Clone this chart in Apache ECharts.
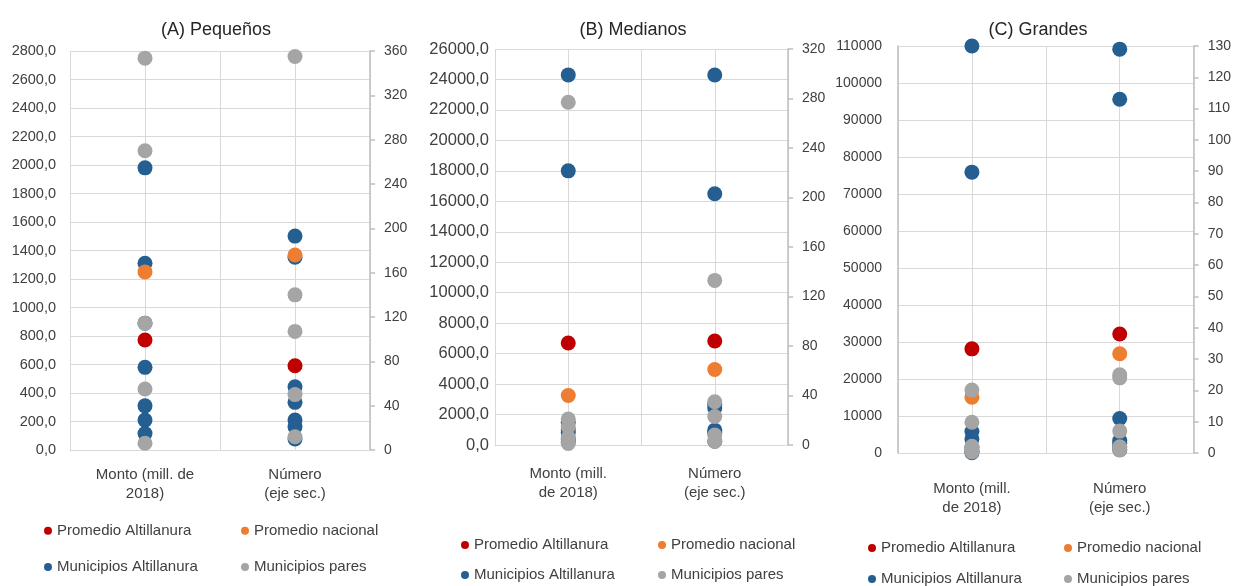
<!DOCTYPE html>
<html>
<head>
<meta charset="utf-8">
<script src="https://cdn.jsdelivr.net/npm/echarts@6/dist/echarts.min.js"></script>
<style>
  html, body { margin: 0; padding: 0; background: #ffffff; }
  #chart { width: 1234px; height: 586px; }
</style>
</head>
<body>
<div id="chart"></div>
<script>
// ---------- DATA ----------
const panelTitles = ['(A) Pequeños', '(B) Medianos', '(C) Grandes'];
const categoryLabelsA = ['Monto (mill. de\n2018)', 'Número\n(eje sec.)'];
const categoryLabelsBC = ['Monto (mill.\nde 2018)', 'Número\n(eje sec.)'];
const seriesNames = ['Promedio Altillanura', 'Promedio nacional', 'Municipios Altillanura', 'Municipios pares'];

// Left axis (Monto) and right axis (Número) ranges per panel
const leftMax = [2800, 26000, 110000];
const leftInterval = [200, 2000, 10000];
const rightMax = [360, 320, 130];
const rightInterval = [40, 40, 10];

// (A) Pequeños
const promAltMontoA = [772];
const promAltNumeroA = [76];
const promNacMontoA = [1250];
const promNacNumeroA = [176];
const munAltMontoA = [1980, 1310, 890, 580, 310, 210, 115];
const munAltNumeroA = [193, 174, 57, 43, 27, 21, 10];
const munParesMontoA = [2750, 2100, 890, 428, 47];
const munParesNumeroA = [355, 140, 107, 50, 12];

// (B) Medianos
const promAltMontoB = [6700];
const promAltNumeroB = [84];
const promNacMontoB = [3250];
const promNacNumeroB = [61];
const munAltMontoB = [24300, 18000, 1500, 1000, 800, 400, 200];
const munAltNumeroB = [299, 203, 33, 30, 12, 10, 3];
const munParesMontoB = [22500, 1700, 1200, 500, 100];
const munParesNumeroB = [133, 35, 23, 8, 3];

// (C) Grandes
const promAltMontoC = [28150];
const promAltNumeroC = [38];
const promNacMontoC = [15100];
const promNacNumeroC = [31.7];
const munAltMontoC = [110000, 75900, 5800, 3800, 1500, 500, 100];
const munAltNumeroC = [129, 113, 11, 4, 3, 2, 1];
const munParesMontoC = [17000, 8300, 1800, 900, 300];
const munParesNumeroC = [25, 24, 7, 2, 1];

// ---------- BUILD ----------
const panels = [
  { cats: categoryLabelsA,
    monto: [promAltMontoA, promNacMontoA, munAltMontoA, munParesMontoA],
    numero: [promAltNumeroA, promNacNumeroA, munAltNumeroA, munParesNumeroA] },
  { cats: categoryLabelsBC,
    monto: [promAltMontoB, promNacMontoB, munAltMontoB, munParesMontoB],
    numero: [promAltNumeroB, promNacNumeroB, munAltNumeroB, munParesNumeroB] },
  { cats: categoryLabelsBC,
    monto: [promAltMontoC, promNacMontoC, munAltMontoC, munParesMontoC],
    numero: [promAltNumeroC, promNacNumeroC, munAltNumeroC, munParesNumeroC] }
];

const colors = { 'Promedio Altillanura': '#C00000', 'Promedio nacional': '#ED7D31',
                 'Municipios Altillanura': '#255E91', 'Municipios pares': '#A5A5A5' };
const drawOrder = [2, 0, 1, 3]; // blue underneath, gray on top

const FONT = 'Liberation Sans';
const TXT = '#404040';
const GRIDC = '#d9d9d9';
const AXC = '#bfbfbf';

const layout = [
  { grid: { left: 70, top: 51, width: 300, height: 399 }, titleX: 211, xMargin: 15, leftMargin: 14, leftFont: 14.5, leftLine: false,
    col: [44, 241], rows: [530.7, 567], dec: true },
  { grid: { left: 495, top: 49, width: 293, height: 396 }, titleX: 628, xMargin: 19, leftMargin: 6, leftFont: 16.5, leftLine: false,
    col: [461, 658], rows: [545, 575], dec: true },
  { grid: { left: 898, top: 46, width: 297, height: 407 }, titleX: 1033, xMargin: 26, leftMargin: 16, leftFont: 14, leftLine: true,
    col: [868, 1064], rows: [548, 579], dec: false }
];
// legend placement: [column, row] for each series name
const legendSlot = [[0, 0], [1, 0], [0, 1], [1, 1]];

const option = {
  animation: false,
  backgroundColor: '#ffffff',
  title: [], grid: [], xAxis: [], yAxis: [], series: [], legend: []
};

panels.forEach((pn, p) => {
  const L = layout[p];
  option.title.push({ text: panelTitles[p], left: L.titleX, top: 16, textAlign: 'center',
    textStyle: { fontFamily: FONT, fontSize: 18, fontWeight: 'normal', color: '#262626' } });
  option.grid.push(L.grid);
  option.xAxis.push({
    gridIndex: p, type: 'value', min: -0.5, max: pn.cats.length - 0.5, interval: 0.5,
    axisLine: { show: true, onZero: false, lineStyle: { color: GRIDC, width: 1 } },
    axisTick: { show: false },
    splitLine: { show: true, lineStyle: { color: GRIDC, width: 1 } },
    axisLabel: {
      showMinLabel: false, showMaxLabel: false,
      formatter: v => (Number.isInteger(v) && pn.cats[v] !== undefined) ? pn.cats[v] : '',
      fontFamily: FONT, fontSize: 15, color: TXT, lineHeight: 19, margin: L.xMargin, align: 'center'
    }
  });
  option.yAxis.push({
    gridIndex: p, type: 'value', position: 'left', min: 0, max: leftMax[p], interval: leftInterval[p],
    axisLine: { show: L.leftLine, onZero: false, lineStyle: { color: AXC, width: 1.5 } },
    axisTick: { show: false },
    splitLine: { show: true, lineStyle: { color: GRIDC, width: 1 } },
    axisLabel: { formatter: v => L.dec ? v.toFixed(1).replace('.', ',') : String(v),
      fontFamily: FONT, fontSize: L.leftFont, color: TXT, margin: L.leftMargin }
  });
  option.yAxis.push({
    gridIndex: p, type: 'value', position: 'right', min: 0, max: rightMax[p], interval: rightInterval[p],
    axisLine: { show: true, onZero: false, lineStyle: { color: AXC, width: 1.5 } },
    axisTick: { show: true, inside: false, length: 5, lineStyle: { color: AXC, width: 1.5 } },
    splitLine: { show: false },
    axisLabel: { fontFamily: FONT, fontSize: 14, color: TXT, margin: 14 }
  });
  drawOrder.forEach(k => {
    const name = seriesNames[k];
    option.series.push({
      name, type: 'scatter', xAxisIndex: p, yAxisIndex: 2 * p,
      symbol: 'circle', symbolSize: 15, itemStyle: { color: colors[name], opacity: 1 },
      data: pn.monto[k].map(v => [0, v]), silent: true
    });
    option.series.push({
      name, type: 'scatter', xAxisIndex: p, yAxisIndex: 2 * p + 1,
      symbol: 'circle', symbolSize: 15, itemStyle: { color: colors[name], opacity: 1 },
      data: pn.numero[k].map(v => [1, v]), silent: true
    });
  });
  seriesNames.forEach((name, k) => {
    const [c, r] = legendSlot[k];
    option.legend.push({
      data: [name], orient: 'horizontal', icon: 'circle', itemWidth: 8, itemHeight: 8,
      padding: 0, left: L.col[c], top: L.rows[r] - 9, selectedMode: false,
      textStyle: { fontFamily: FONT, fontSize: 15, color: TXT, lineHeight: 18 }
    });
  });
});

const chart = echarts.init(document.getElementById('chart'), null, { renderer: 'canvas' });
chart.setOption(option);
</script>
</body>
</html>
